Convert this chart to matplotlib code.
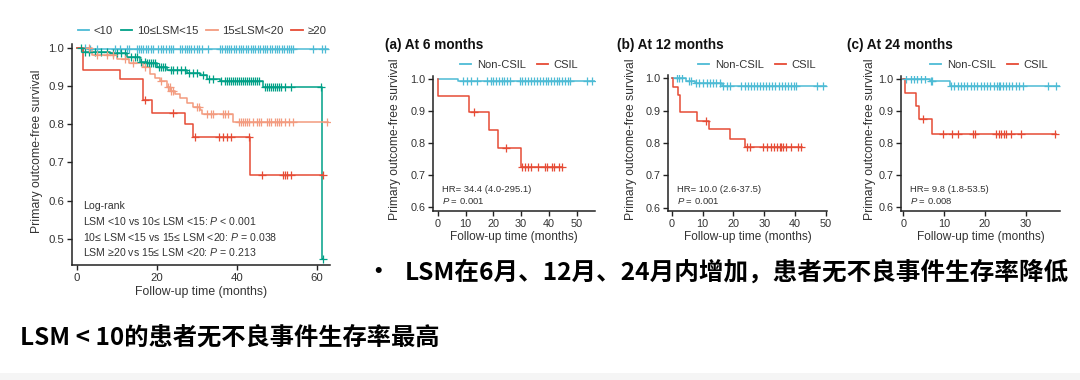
import matplotlib
matplotlib.use("Agg")
import matplotlib.pyplot as plt
import numpy as np
from matplotlib.patches import Rectangle

# ---------------- data ----------------
# Left panel (LSM groups) : event times, survival after event, end time, censor times
lsm_labels = ["<10", "10≤LSM<15", "15≤LSM<20", "≥20"]
lsm_colors = ["#4DBBD5", "#00A087", "#F39B7F", "#E64B35"]

g1_times = [3.0]
g1_surv = [0.996]
g1_end = 62.7
g1_cens = [2.0, 3.2, 4.9, 9.5, 10.8, 12.5, 13.0, 15.0, 15.5, 16.0, 16.6, 17.2, 17.8, 18.4, 19.0,
           20.3, 20.9, 21.5, 22.2, 23.0, 23.6, 24.1, 25.8, 26.3, 26.9, 27.5, 28.0, 28.6, 29.3,
           30.0, 30.6, 31.2, 32.8, 35.8, 36.3, 36.9, 37.4, 38.0, 38.6, 39.2, 39.8, 40.4, 41.0,
           41.6, 42.2, 42.8, 43.4, 44.0, 44.6, 45.2, 45.8, 46.4, 47.0, 47.6, 48.2, 48.8, 49.4,
           50.0, 50.6, 51.2, 51.8, 52.4, 53.0, 53.6, 54.1, 59.1, 61.2, 62.0]

g2_times = [1.6, 8.2, 12.4, 15.8, 17.4, 19.9, 22.4, 27.4, 30.8, 32.4, 35.8, 46.6, 61.3]
g2_surv = [0.989, 0.985, 0.976, 0.963, 0.959, 0.950, 0.941, 0.935, 0.928, 0.919, 0.913, 0.897, 0.447]
g2_end = 61.5
g2_cens = [1.0, 2.0, 3.0, 4.5, 6.0, 7.5, 9.0, 10.0, 11.0, 12.0, 13.5, 14.5, 15.0, 16.0, 17.0,
           17.5, 18.0, 18.5, 19.0, 19.5, 20.5, 21.0, 21.5, 22.0, 23.5, 24.0, 25.0, 26.0, 27.0,
           28.0, 29.0, 30.0, 31.5, 33.0, 34.0, 36.0, 37.0, 37.5, 38.0, 38.5, 39.0, 39.5, 40.0,
           40.5, 41.0, 41.5, 42.0, 42.5, 43.0, 43.5, 44.0, 44.5, 45.0, 45.5, 47.0, 47.5, 48.0,
           48.5, 49.0, 49.5, 50.0, 50.5, 51.0, 52.0, 53.5, 61.0, 61.5]

g3_times = [3.7, 9.9, 13.0, 16.6, 18.3, 19.5, 20.8, 22.4, 23.3, 24.5, 25.8, 27.4, 29.1, 30.8, 31.2, 39.1]
g3_surv = [0.980, 0.970, 0.960, 0.950, 0.930, 0.920, 0.912, 0.897, 0.888, 0.878, 0.868, 0.856,
           0.845, 0.838, 0.827, 0.807]
g3_end = 62.7
g3_cens = [3.0, 5.0, 7.5, 9.0, 12.0, 14.0, 17.0, 21.0, 22.8, 23.2, 23.6, 24.0, 30.0, 30.5, 32.5,
           33.5, 34.0, 36.5, 37.0, 37.8, 40.5, 41.0, 41.5, 42.0, 42.5, 43.0, 44.0, 45.0, 45.5,
           46.0, 47.5, 48.0, 48.5, 49.5, 50.0, 50.5, 51.0, 52.0, 53.0, 54.0, 62.5]

g4_times = [1.4, 10.8, 16.6, 18.8, 27.0, 29.1, 43.3]
g4_surv = [0.943, 0.917, 0.862, 0.830, 0.800, 0.766, 0.668]
g4_end = 61.6
g4_cens = [16.9, 24.0, 29.5, 35.5, 36.6, 37.6, 38.6, 43.0, 46.2, 51.6, 52.0, 52.6, 53.6, 61.6]

logrank_lines = ["Log-rank",
                 "LSM <10 vs 10≤ LSM <15: $\\it{P}$ < 0.001",
                 "10≤ LSM <15 vs 15≤ LSM <20: $\\it{P}$ = 0.038",
                 "LSM ≥20 vs 15≤ LSM <20: $\\it{P}$ = 0.213"]

# Small panels: Non-CSIL / CSIL
csil_labels = ["Non-CSIL", "CSIL"]
csil_colors = ["#4DBBD5", "#E64B35"]
panel_titles = ["(a) At 6 months", "(b) At 12 months", "(c) At 24 months"]
panel_hr = ["HR= 34.4 (4.0-295.1)", "HR= 10.0 (2.6-37.5)", "HR= 9.8 (1.8-53.5)"]
panel_p = ["0.001", "0.001", "0.008"]

a_non_times = [7.4]
a_non_surv = [0.993]
a_non_end = 56.6
a_non_cens = [9.0, 10.5, 12.0, 14.0, 17.7, 19.0, 20.0, 21.0, 22.0, 23.0, 24.0, 25.0, 26.0, 29.6,
              30.5, 31.5, 32.5, 33.5, 34.5, 35.7, 36.8, 37.8, 38.8, 39.8, 40.8, 41.8, 42.8, 43.8,
              44.8, 45.8, 46.8, 47.6, 53.6, 55.4]
a_csil_times = [0.2, 11.3, 18.5, 21.8, 29.8]
a_csil_surv = [0.948, 0.898, 0.840, 0.784, 0.724]
a_csil_end = 44.6
a_csil_cens = [13.1, 24.6, 30.5, 31.5, 32.5, 33.5, 36.0, 38.5, 39.5, 41.0, 42.0, 43.5, 44.6]

b_non_times = [4.6, 7.5, 16.2]
b_non_surv = [0.993, 0.987, 0.976]
b_non_end = 50.1
b_non_cens = [1.6, 2.4, 3.2, 5.5, 6.2, 8.0, 9.0, 10.0, 11.5, 12.5, 13.5, 14.5, 15.6, 16.6, 17.8,
              19.0, 22.6, 23.6, 24.6, 25.6, 26.6, 27.6, 28.6, 29.6, 30.6, 31.6, 32.6, 33.6, 34.6,
              35.6, 36.6, 37.6, 38.6, 39.6, 40.4, 46.9, 49.0]
b_csil_times = [0.5, 1.9, 2.7, 8.3, 12.2, 18.9, 23.7]
b_csil_surv = [0.974, 0.948, 0.897, 0.869, 0.843, 0.814, 0.787]
b_csil_end = 42.1
b_csil_cens = [11.1, 24.3, 25.5, 29.5, 31.0, 32.0, 33.0, 34.0, 35.0, 35.5, 36.0, 37.0, 38.5, 41.0, 42.0]

c_non_times = [6.4, 11.3]
c_non_surv = [0.993, 0.978]
c_non_end = 38.3
c_non_cens = [0.7, 1.8, 2.6, 3.4, 4.4, 5.2, 6.8, 7.1, 11.7, 12.5, 13.3, 14.1, 14.9, 15.7, 16.5,
              17.3, 18.1, 18.9, 19.7, 20.5, 21.3, 22.1, 22.9, 23.4, 23.8, 24.3, 25.1, 25.9, 26.7,
              27.5, 28.3, 29.3, 35.5, 37.5]
c_csil_times = [0.5, 3.1, 3.7, 7.0]
c_csil_surv = [0.957, 0.916, 0.874, 0.827]
c_csil_end = 37.3
c_csil_cens = [4.7, 9.7, 12.0, 13.3, 17.0, 17.5, 22.8, 23.4, 24.0, 24.6, 25.2, 26.5, 28.9, 37.1]

bullet_text = "LSM在6月、12月、24月内增加，患者无不良事件生存率降低"
bottom_text = "LSM < 10的患者无不良事件生存率最高"

# ---------------- drawing ----------------
W, H = 1080, 380
fig = plt.figure(figsize=(W / 100, H / 100), dpi=100)
fig.patch.set_facecolor("white")
plt.rcParams["font.family"] = ["Liberation Sans", "DejaVu Sans"]
plt.rcParams["mathtext.fontset"] = "custom"
plt.rcParams["mathtext.it"] = "Liberation Sans:italic"
plt.rcParams["mathtext.rm"] = "Liberation Sans"

TXT = "#333333"


def ax_px(left, top, right, bottom):
    return fig.add_axes([left / W, 1 - bottom / H, (right - left) / W, (bottom - top) / H])


def km(ax, times, surv, end, cens, color, lw=1.1):
    xs = [0.0] + list(times) + [end]
    ys = [1.0] + list(surv) + [surv[-1]]
    ax.step(xs, ys, where="post", color=color, lw=lw, zorder=3)
    t_arr = np.array(times)
    s_arr = np.array(surv)
    cy = []
    for c in cens:
        idx = np.searchsorted(t_arr, c, side="right") - 1
        cy.append(1.0 if idx < 0 else s_arr[idx])
    ax.plot(cens, cy, ls="none", marker="+", ms=5.5, mew=0.9, color=color, zorder=4)


def style(ax, fs=7.5):
    for s in ["top", "right"]:
        ax.spines[s].set_visible(False)
    for s in ["left", "bottom"]:
        ax.spines[s].set_linewidth(1.1)
        ax.spines[s].set_color("#222222")
    ax.tick_params(direction="out", length=3.5, width=1.0, color="#222222",
                   labelsize=fs, labelcolor=TXT, pad=2)


# Left big panel
ax0 = ax_px(72, 43.9, 330, 265.3)
for (t, s, e, c), col in zip([(g1_times, g1_surv, g1_end, g1_cens),
                              (g2_times, g2_surv, g2_end, g2_cens),
                              (g3_times, g3_surv, g3_end, g3_cens),
                              (g4_times, g4_surv, g4_end, g4_cens)], lsm_colors):
    km(ax0, t, s, e, c, col)
ax0.set_xlim(-1.25, 63.25)
ax0.set_ylim(0.431, 1.01)
ax0.set_xticks([0, 20, 40, 60])
ax0.set_yticks([0.5, 0.6, 0.7, 0.8, 0.9, 1.0])
ax0.set_yticklabels(["0.5", "0.6", "0.7", "0.8", "0.9", "1.0"])
style(ax0, 8.2)
ax0.set_xlabel("Follow-up time (months)", fontsize=8.8, color=TXT, labelpad=2)
fig.text(37 / W, 1 - 151 / H, "Primary outcome-free survival", rotation=90,
         ha="center", va="center", fontsize=8.8, color=TXT)
for i, line in enumerate(logrank_lines):
    fig.text(83 / W, 1 - (206 + i * 15.3) / H, line, fontsize=7.6, color=TXT,
             ha="left", va="center")
handles = [plt.Line2D([], [], color=c, lw=1.3) for c in lsm_colors]
fig.legend(handles, lsm_labels, loc="center", bbox_to_anchor=(202 / W, 1 - 31 / H),
           ncol=4, frameon=False, fontsize=8.2, handlelength=1.0, handletextpad=0.4,
           columnspacing=0.7, labelcolor=TXT)

# Small panels
small = [
    dict(box=(433, 75.8, 595, 211), xlim=(-1.7, 56.6), ylim=(0.5875, 1.01), xt=[0, 10, 20, 30, 40, 50],
         non=(a_non_times, a_non_surv, a_non_end, a_non_cens),
         cs=(a_csil_times, a_csil_surv, a_csil_end, a_csil_cens),
         title_x=385, ylab_x=395, leg_x=519),
    dict(box=(668, 75.1, 827, 211), xlim=(-1.2, 50.3), ylim=(0.59, 1.01), xt=[0, 10, 20, 30, 40, 50],
         non=(b_non_times, b_non_surv, b_non_end, b_non_cens),
         cs=(b_csil_times, b_csil_surv, b_csil_end, b_csil_cens),
         title_x=617, ylab_x=631, leg_x=757),
    dict(box=(901, 75.8, 1060, 211), xlim=(-0.6, 38.4), ylim=(0.5875, 1.01), xt=[0, 10, 20, 30],
         non=(c_non_times, c_non_surv, c_non_end, c_non_cens),
         cs=(c_csil_times, c_csil_surv, c_csil_end, c_csil_cens),
         title_x=847, ylab_x=870, leg_x=989),
]
for i, p in enumerate(small):
    ax = ax_px(*p["box"])
    km(ax, *p["non"], csil_colors[0])
    km(ax, *p["cs"], csil_colors[1])
    ax.set_xlim(*p["xlim"])
    ax.set_ylim(*p["ylim"])
    ax.set_xticks(p["xt"])
    ax.set_yticks([0.6, 0.7, 0.8, 0.9, 1.0])
    ax.set_yticklabels(["0.6", "0.7", "0.8", "0.9", "1.0"])
    style(ax, 7.8)
    ax.set_xlabel("Follow-up time (months)", fontsize=8.6, color=TXT, labelpad=2)
    fig.text(p["ylab_x"] / W, 1 - 139 / H, "Primary outcome-free survival", rotation=90,
             ha="center", va="center", fontsize=8.7, color=TXT)
    fig.text(p["title_x"] / W, 1 - 45 / H, panel_titles[i], fontsize=9.8, fontweight="bold",
             color="#111111", ha="left", va="center")
    left = p["box"][0]
    fig.text((left + 9) / W, 1 - 190 / H, panel_hr[i], fontsize=6.8, color=TXT, ha="left", va="center")
    fig.text((left + 9) / W, 1 - 201 / H, "$\\it{P}$ = " + panel_p[i], fontsize=6.8, color=TXT,
             ha="left", va="center")
    hh = [plt.Line2D([], [], color=c, lw=1.3) for c in csil_colors]
    fig.legend(hh, csil_labels, loc="center", bbox_to_anchor=(p["leg_x"] / W, 1 - 65 / H),
               ncol=2, frameon=False, fontsize=8.0, handlelength=1.0, handletextpad=0.5,
               columnspacing=1.0, labelcolor=TXT)

# Bottom texts
cjk = ["Noto Sans CJK SC", "DejaVu Sans"]
fig.text(378 / W, 1 - 272 / H, "•", fontsize=17, fontweight="bold", color="black",
         ha="center", va="center", family=cjk)
fig.text(405 / W, 1 - 272 / H, bullet_text, fontsize=17.7, fontweight="bold", color="black",
         ha="left", va="center", family=cjk)
fig.text(20 / W, 1 - 338 / H, bottom_text, fontsize=17.5, fontweight="bold", color="black",
         ha="left", va="center", family=cjk)

# faint bottom band
fig.patches.append(Rectangle((0, 0), 1, 7 / H, transform=fig.transFigure,
                             facecolor="#f5f5f5", edgecolor="none", zorder=0))

fig.savefig("out.png", dpi=100, facecolor="white")
